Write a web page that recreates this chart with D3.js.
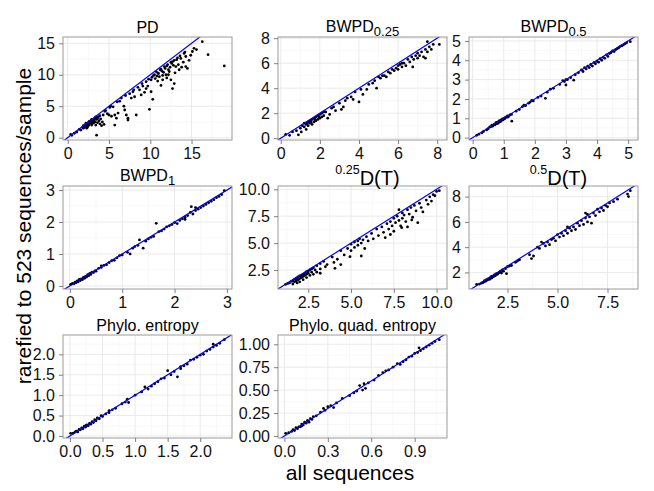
<!DOCTYPE html>
<html>
<head>
<meta charset="utf-8">
<script src="https://cdn.jsdelivr.net/npm/d3@7"></script>
<style>
body { margin: 0; background: #fff; }
text { font-family: "Liberation Sans", Arial, sans-serif; }
</style>
</head>
<body>
<svg id="chart" width="654" height="491"></svg>
<script>
// [all sequences, rarefied] pairs
const pd = [[0.36,0.5],[0.5,0.37],[0.8,0.7],[1.1,0.9],[1.4,1.3],[1.6,1.2],
  [1.8,1.6],[1.9,1.9],[2.0,1.7],[2.1,2.0],[2.2,1.8],[2.3,2.1],[2.4,2.2],[2.5,1.9],[2.5,2.4],[2.6,2.1],[2.7,2.5],[2.8,2.3],[2.8,2.7],[2.9,2.0],
  [3.0,2.6],[3.0,2.9],[3.1,2.3],[3.2,2.8],[3.3,3.1],[3.3,2.5],[3.4,2.0],[3.5,2.9],[3.5,0.4],[3.6,2.4],[3.7,3.3],[3.8,2.7],[3.9,2.2],[4.0,3.0],
  [4.1,1.9],[4.2,2.5],[4.3,3.6],[4.4,2.1],[2.2,2.3],[2.9,2.9],[3.6,3.1],[2.4,1.7],[3.1,2.7],[3.9,3.5],[3.4,3.3],[2.6,2.6],[1.9,1.5],[2.3,1.5],
  [4.6,4.3],[4.8,3.8],[5.0,3.6],[5.1,4.8],[5.3,3.4],[5.5,4.9],[5.7,2.0],[5.9,3.1],[5.7,3.6],[6.1,3.9],[6.3,5.8],[4.5,4.2],[5.2,5.0],[6.0,5.7],
  [6.5,6.3],[6.9,4.4],[7.1,3.6],[7.3,3.1],[7.3,2.8],[7.5,7.0],[7.7,6.3],[7.9,7.3],[8.1,6.5],[8.3,3.6],[6.8,5.0],[7.0,6.7],[8.0,7.6],
  [8.5,8.0],[8.7,7.6],[8.9,6.8],[9.1,8.2],[9.5,7.8],[9.5,8.9],[9.7,8.2],[9.9,4.5],[10.1,7.3],[10.1,9.2],[10.3,6.1],[9.3,7.2],[9.0,8.6],[9.8,9.3],
  [10.5,10.0],[10.6,9.4],[10.7,10.5],[10.9,9.0],[11.0,10.2],[11.1,9.7],[11.2,10.8],[11.3,8.3],[11.5,9.2],[11.6,10.4],[11.8,11.0],
  [11.9,10.0],[12.0,9.5],[12.1,11.6],[12.2,10.8],[12.3,10.5],[12.4,11.2],[12.5,9.2],[12.6,11.8],[12.7,7.8],[12.7,12.1],[12.9,8.6],
  [13.0,10.3],[13.1,11.3],[13.2,12.4],[13.4,11.6],[13.5,10.8],[13.7,12.6],[13.8,11.2],[14.0,12.0],[14.1,13.4],[14.3,12.9],[14.3,11.3],
  [14.5,11.0],[14.7,12.3],[14.9,13.1],[15.1,13.7],[15.3,14.2],[15.6,14.0],[11.4,10.6],[10.8,9.8],[12.8,11.5],
  [10.2,9.6],[10.4,9.9],[10.9,10.3],[11.3,10.9],[11.7,11.3],[12.0,11.4],[12.5,12.0],[12.9,12.3],[13.3,12.7],[13.6,13.0],[14.2,13.6],
  [11.5,9.9],[12.2,10.0],[16.3,15.26],[17.0,13.2],[18.97,11.4]];

const bwpd025 = [[0.25,0.3],[0.45,0.23],[0.6,0.5],[0.8,0.6],[0.9,0.27],[1.0,0.8],[1.05,0.5],[1.1,1.0],[1.2,0.9],[1.2,1.2],[1.3,1.1],
  [1.3,0.7],[1.4,1.3],[1.4,1.0],[1.5,1.4],[1.5,1.2],[1.6,1.5],[1.6,1.1],[1.7,1.6],[1.7,1.3],[1.8,1.7],[1.8,1.4],[1.9,1.8],[1.9,1.5],
  [2.0,1.9],[2.0,1.6],[2.1,2.0],[2.1,1.7],[2.2,1.8],[2.3,2.1],[2.4,1.6],[2.5,1.9],[2.6,2.4],[2.8,2.2],[3.0,2.8],[3.1,2.3],[3.2,2.5],
  [3.4,3.2],[3.6,3.3],[3.7,3.1],[3.8,3.7],[4.0,2.9],[4.1,3.9],[4.2,3.5],[4.4,3.9],[4.5,4.3],[4.7,4.4],[4.8,4.6],[4.9,4.0],[5.0,4.9],
  [5.1,4.8],[5.3,5.0],[5.4,4.9],[5.5,5.3],[5.6,5.2],[5.7,5.5],[5.8,5.4],[5.9,5.6],[6.0,5.8],[6.0,5.5],[6.1,5.9],[6.2,5.7],[6.3,6.0],
  [6.4,5.8],[6.5,6.3],[6.6,6.1],[6.7,6.5],[6.75,5.7],[6.8,6.3],[6.9,6.6],[7.0,6.4],[7.0,6.8],[7.1,6.6],[7.2,6.9],[7.3,6.5],[7.4,6.4],
  [7.4,7.1],[7.5,7.72],[7.5,6.9],[7.6,7.3],[7.7,7.1],[7.8,7.5],[8.11,7.5],[5.2,5.0],[6.2,6.0],[3.3,3.0],[2.7,2.5],[2.2,2.1],
  [1.55,1.3],[1.75,1.5],[1.95,1.7],[1.35,1.2]];

const bwpd05 = [[0.13,0.12],[0.2,0.18],[0.3,0.25],[0.35,0.32],[0.45,0.4],[0.5,0.46],[0.55,0.55],[0.6,0.57],[0.62,0.65],[0.65,0.6],
  [0.7,0.7],[0.72,0.66],[0.75,0.77],[0.78,0.72],[0.8,0.8],[0.82,0.75],[0.85,0.86],[0.88,0.82],[0.9,0.9],[0.92,0.86],[0.95,0.96],
  [0.98,0.92],[1.0,1.0],[1.03,0.97],[1.06,1.06],[1.1,1.05],[1.12,1.12],[1.15,1.08],[1.2,1.17],[1.25,1.2],[1.26,0.85],[1.4,1.37],
  [1.5,1.45],[1.6,1.6],[1.7,1.65],[1.8,1.78],[1.85,1.84],[1.95,1.9],[2.1,2.08],[2.2,2.15],[2.34,2.03],[2.4,2.35],[2.5,2.5],[2.6,2.55],
  [2.8,2.75],[2.9,2.95],[2.95,2.9],[3.0,2.72],[3.05,3.0],[3.15,3.1],[3.25,2.97],[3.3,3.25],[3.4,3.35],[3.5,3.5],[3.55,3.42],[3.6,3.62],
  [3.65,3.55],[3.7,3.7],[3.75,3.62],[3.8,3.78],[3.85,3.7],[3.9,3.88],[3.95,3.82],[4.0,3.95],[4.05,3.9],[4.1,4.08],[4.15,4.0],[4.2,4.15],
  [4.25,4.1],[4.3,4.28],[4.35,4.2],[4.4,4.35],[4.45,4.4],[4.5,4.48],[4.55,4.45],[4.6,4.55],[4.65,4.6],[4.7,4.65],[4.75,4.72],[4.8,4.75],
  [4.85,4.8],[4.9,4.85],[4.95,4.9],[5.07,4.96],[3.0,3.0],[1.9,1.92],[1.65,1.68]];

const bwpd1 = [[0.016,0.05],[0.05,0.08],[0.08,0.07],[0.1,0.12],[0.12,0.1],[0.14,0.16],[0.16,0.13],[0.18,0.2],[0.2,0.17],[0.22,0.22],
  [0.24,0.2],[0.26,0.27],[0.28,0.24],[0.3,0.3],[0.32,0.28],[0.34,0.35],[0.36,0.32],[0.38,0.39],[0.4,0.36],[0.42,0.43],[0.45,0.42],
  [0.48,0.47],[0.5,0.46],[0.55,0.55],[0.6,0.58],[0.65,0.64],[0.7,0.66],[0.75,0.73],[0.8,0.79],[0.85,0.8],[0.9,0.88],[0.95,0.95],
  [1.0,0.97],[1.1,1.05],[1.2,1.18],[1.24,1.23],[1.3,1.27],[1.33,1.44],[1.4,1.18],[1.45,1.4],[1.5,1.47],[1.55,1.52],[1.6,1.55],
  [1.65,1.96],[1.7,1.7],[1.75,1.72],[1.8,1.78],[1.85,1.85],[1.9,1.88],[1.95,1.92],[2.0,1.98],[2.05,1.95],[2.1,2.05],[2.15,2.1],
  [2.2,2.15],[2.25,2.2],[2.3,2.3],[2.32,2.48],[2.35,2.25],[2.4,2.36],[2.45,2.4],[2.5,2.45],[2.55,2.5],[2.6,2.55],[2.65,2.6],[2.7,2.65],
  [2.75,2.7],[2.8,2.76],[2.85,2.8],[2.9,2.86],[2.95,2.98],[2.2,2.08],[2.4,2.45],[0.6,0.63],[0.3,0.27],[1.15,1.0]];

const dt025 = [[1.18,1.17],[1.3,1.25],[1.4,1.3],[1.5,1.45],[1.6,1.5],[1.6,1.2],[1.7,1.65],[1.7,1.4],[1.8,1.75],[1.8,1.5],[1.85,1.3],
  [1.9,1.85],[1.9,1.6],[2.0,1.95],[2.0,1.7],[2.0,1.4],[2.1,2.0],[2.1,1.8],[2.2,2.1],[2.2,1.9],[2.2,1.6],[2.3,2.2],[2.3,2.0],[2.4,2.35],
  [2.4,2.1],[2.4,1.8],[2.5,2.4],[2.5,2.2],[2.6,2.5],[2.6,2.0],[2.7,2.6],[2.7,2.3],[2.8,2.7],[2.8,2.1],[2.9,2.5],[3.0,2.9],[3.0,2.3],
  [3.2,3.1],[3.2,2.6],[3.2,2.2],[3.4,3.3],[3.5,2.8],[3.6,3.0],[4.06,2.66],[3.9,3.7],[4.0,3.2],[4.2,3.5],[4.4,4.3],[4.4,3.0],[4.6,3.9],
  [4.8,4.5],[4.94,3.74],[5.0,4.9],[5.0,4.3],[5.2,5.1],[5.2,4.6],[5.4,5.2],[5.4,4.8],[5.5,5.4],[5.6,3.8],[5.6,5.0],[5.7,5.3],[5.8,4.5],
  [5.9,5.6],[6.0,5.2],[6.2,5.9],[6.3,5.4],[6.5,6.3],[6.6,5.7],[6.8,6.5],[6.9,6.0],[7.0,5.5],[7.1,6.8],[7.2,6.3],[7.3,7.0],[7.4,6.6],
  [7.5,7.3],[7.5,6.1],[7.6,6.9],[7.7,7.5],[7.8,8.1],[7.8,7.1],[7.9,6.6],[7.96,6.43],[8.0,7.8],[8.0,7.3],[8.1,7.6],[8.2,7.0],[8.3,8.1],
  [8.3,6.5],[8.4,7.7],[8.5,8.3],[8.55,7.15],[8.6,7.4],[8.7,8.5],[8.8,8.0],[8.9,6.9],[9.0,8.7],[9.1,8.3],[9.2,7.9],[9.4,9.0],[9.5,8.6],
  [9.6,9.3],[9.8,9.5],[10.0,9.8],[10.16,9.87],[9.9,9.4],[9.7,8.9],[7.3,5.8]];

const dt05 = [[0.96,1.06],[1.1,1.08],[1.2,1.15],[1.3,1.22],[1.35,1.35],[1.4,1.3],[1.45,1.42],[1.5,1.4],[1.55,1.5],[1.6,1.45],
  [1.65,1.6],[1.7,1.55],[1.75,1.7],[1.8,1.65],[1.85,1.8],[1.9,1.75],[1.95,1.9],[2.0,1.85],[2.05,1.95],[2.1,2.0],[2.15,2.1],[2.2,1.95],
  [2.25,2.2],[2.3,2.1],[2.4,2.3],[2.45,1.9],[2.5,2.45],[2.6,2.5],[2.7,2.55],[2.9,2.8],[3.1,3.0],[3.6,3.4],[3.7,3.1],[3.8,3.3],[4.0,4.0],
  [4.1,3.9],[4.3,4.3],[4.4,4.1],[4.5,4.4],[4.6,4.2],[4.7,4.6],[4.8,4.7],[4.9,4.5],[5.0,5.0],[5.1,4.8],[5.2,5.1],[5.3,4.9],[5.4,5.3],
  [5.5,5.1],[5.6,5.5],[5.7,5.3],[5.8,5.6],[5.9,5.4],[6.0,5.9],[6.1,5.7],[6.2,6.1],[6.3,5.8],[6.4,6.3],[6.5,6.0],[6.5,6.6],[6.6,6.4],
  [6.7,5.9],[6.8,6.7],[6.9,6.5],[7.0,7.0],[7.1,6.8],[7.2,7.1],[7.3,6.9],[7.4,7.3],[7.5,7.2],[7.6,7.5],[7.8,7.6],[8.0,7.8],[8.5,8.2],
  [8.64,8.47],[8.55,8.0],[6.4,6.7],[5.5,5.6],[4.2,4.4],[3.0,2.9],[1.25,1.2],[1.7,1.68],[1.9,1.82]];

const entropy = [[0.011,0.065],[0.05,0.07],[0.08,0.1],[0.1,0.12],[0.12,0.1],[0.14,0.16],[0.16,0.15],[0.18,0.2],[0.2,0.18],[0.22,0.24],
  [0.24,0.22],[0.26,0.27],[0.28,0.25],[0.3,0.31],[0.32,0.29],[0.34,0.35],[0.36,0.33],[0.38,0.4],[0.4,0.37],[0.42,0.44],[0.45,0.42],
  [0.48,0.5],[0.5,0.48],[0.55,0.54],[0.6,0.57],[0.65,0.64],[0.7,0.68],[0.8,0.79],[0.85,0.83],[0.88,0.9],[0.9,0.82],[1.0,1.0],[1.1,1.08],
  [1.15,1.2],[1.2,1.15],[1.25,1.22],[1.3,1.28],[1.35,1.33],[1.4,1.4],[1.45,1.42],[1.5,1.6],[1.55,1.5],[1.6,1.58],[1.65,1.45],[1.7,1.7],
  [1.75,1.72],[1.8,1.76],[1.85,1.86],[1.9,1.88],[1.95,1.93],[2.0,1.98],[2.05,2.0],[2.1,2.08],[2.15,2.12],[2.2,2.18],[2.25,2.22],
  [2.3,2.27],[2.37,2.36],[2.2,2.25],[1.7,1.65],[0.6,0.62],[0.25,0.26]];

const quadEntropy = [[0.009,0.029],[0.03,0.035],[0.05,0.05],[0.06,0.07],[0.07,0.06],[0.08,0.09],[0.09,0.08],[0.1,0.1],[0.11,0.1],
  [0.12,0.13],[0.13,0.12],[0.14,0.15],[0.15,0.14],[0.16,0.17],[0.17,0.15],[0.18,0.19],[0.19,0.18],[0.2,0.21],[0.22,0.22],[0.25,0.26],
  [0.28,0.28],[0.3,0.32],[0.32,0.33],[0.34,0.31],[0.36,0.36],[0.4,0.41],[0.45,0.44],[0.48,0.47],[0.5,0.49],[0.52,0.55],[0.54,0.5],
  [0.56,0.52],[0.58,0.58],[0.62,0.61],[0.65,0.66],[0.68,0.69],[0.7,0.71],[0.72,0.72],[0.75,0.75],[0.78,0.79],[0.8,0.78],[0.82,0.81],
  [0.84,0.83],[0.86,0.86],[0.88,0.87],[0.9,0.9],[0.92,0.91],[0.94,0.93],[0.96,0.95],[0.98,0.97],[1.0,0.99],[1.02,1.01],[1.04,1.03],
  [1.07,1.05],[0.27,0.3],[0.55,0.57],[0.93,0.96],[0.12,0.11]];

// facet strips and breaks
const titles = [
  {text: "PD"}, {text: "BWPD", sub: "0.25"}, {text: "BWPD", sub: "0.5"},
  {text: "BWPD", sub: "1"}, {text: "D(T)", sup: "0.25"}, {text: "D(T)", sup: "0.5"},
  {text: "Phylo. entropy"}, {text: "Phylo. quad. entropy"}
];
const series = [pd, bwpd025, bwpd05, bwpd1, dt025, dt05, entropy, quadEntropy];
const xTicks = [[0,5,10,15],[0,2,4,6,8],[0,1,2,3,4,5],[0,1,2,3],[2.5,5,7.5,10],[2.5,5,7.5],[0,0.5,1,1.5,2],[0,0.3,0.6,0.9]];
const yTicks = [[0,5,10,15],[0,2,4,6,8],[0,1,2,3,4,5],[0,1,2,3],[2.5,5,7.5,10],[2,4,6,8],[0,0.5,1,1.5,2],[0,0.25,0.5,0.75,1]];
const xFormats = ["d","d","d","d",".1f",".1f",".1f",".1f"];
const yFormats = ["d","d","d","d",".1f","d",".1f",".2f"];

const svg = d3.select("#chart");
const colLeft = [63, 278, 469], rowTop = [37, 186, 335];
const pw = 169, ph = 103;

function expanded(vals) {
  const e = d3.extent(vals), pad = (e[1] - e[0]) * 0.05;
  return [e[0] - pad, e[1] + pad];
}
function minorBreaks(ticks, dom) {
  const step = ticks[1] - ticks[0];
  const out = ticks.map(t => t - step / 2).concat([ticks[ticks.length - 1] + step / 2]);
  return out.filter(v => v >= dom[0] && v <= dom[1]);
}

series.forEach((data, i) => {
  const left = colLeft[i % 3], top = rowTop[Math.floor(i / 3)];
  const x = d3.scaleLinear().domain(expanded(data.map(d => d[0]))).range([0, pw]);
  const y = d3.scaleLinear().domain(expanded(data.map(d => d[1]))).range([ph, 0]);
  const g = svg.append("g").attr("transform", `translate(${left},${top})`);

  g.append("rect").attr("width", pw).attr("height", ph).attr("fill", "#fff");

  // grid
  g.selectAll(".xminor").data(minorBreaks(xTicks[i], x.domain())).enter().append("line")
    .attr("x1", d => x(d)).attr("x2", d => x(d)).attr("y1", 0).attr("y2", ph)
    .attr("stroke", "#f4f4f4").attr("stroke-width", 0.6);
  g.selectAll(".yminor").data(minorBreaks(yTicks[i], y.domain())).enter().append("line")
    .attr("y1", d => y(d)).attr("y2", d => y(d)).attr("x1", 0).attr("x2", pw)
    .attr("stroke", "#f4f4f4").attr("stroke-width", 0.6);
  g.selectAll(".xmajor").data(xTicks[i]).enter().append("line")
    .attr("x1", d => x(d)).attr("x2", d => x(d)).attr("y1", 0).attr("y2", ph)
    .attr("stroke", "#e5e5e5").attr("stroke-width", 0.8);
  g.selectAll(".ymajor").data(yTicks[i]).enter().append("line")
    .attr("y1", d => y(d)).attr("y2", d => y(d)).attr("x1", 0).attr("x2", pw)
    .attr("stroke", "#e5e5e5").attr("stroke-width", 0.8);

  const clipId = "clip" + i;
  g.append("clipPath").attr("id", clipId).append("rect").attr("width", pw).attr("height", ph);
  const body = g.append("g").attr("clip-path", `url(#${clipId})`);

  body.selectAll("circle").data(data).enter().append("circle")
    .attr("cx", d => x(d[0])).attr("cy", d => y(d[1])).attr("r", 1.4)
    .attr("fill", "#000");

  // y = x reference line
  const dom = [Math.min(x.domain()[0], y.domain()[0]), Math.max(x.domain()[1], y.domain()[1])];
  body.append("line")
    .attr("x1", x(dom[0])).attr("y1", y(dom[0]))
    .attr("x2", x(dom[1])).attr("y2", y(dom[1]))
    .attr("stroke", "#0000ff").attr("stroke-width", 1.2);

  g.append("rect").attr("width", pw).attr("height", ph)
    .attr("fill", "none").attr("stroke", "#9a9a9a").attr("stroke-width", 1);

  // axes
  const ax = g.append("g").attr("transform", `translate(0,${ph})`)
    .call(d3.axisBottom(x).tickValues(xTicks[i]).tickFormat(d3.format(xFormats[i]))
      .tickSize(4).tickPadding(4));
  const ay = g.append("g")
    .call(d3.axisLeft(y).tickValues(yTicks[i]).tickFormat(d3.format(yFormats[i]))
      .tickSize(4).tickPadding(4));
  [ax, ay].forEach(a => {
    a.attr("font-family", null).attr("font-size", null);
    a.select(".domain").remove();
    a.selectAll(".tick line").attr("stroke", "#7f7f7f");
    a.selectAll(".tick text").attr("fill", "#111").style("font-size", "16px");
  });

  // strip title
  const t = titles[i];
  const txt = g.append("text").attr("x", pw / 2).attr("text-anchor", "middle")
    .style("font-size", "16px").attr("fill", "#000");
  if (t.sub) {
    txt.attr("y", -5);
    txt.append("tspan").text(t.text);
    txt.append("tspan").attr("dy", 3.5).style("font-size", "13px").text(t.sub);
  } else if (t.sup) {
    txt.attr("x", pw / 2 + 5).attr("y", -1.5);
    txt.append("tspan").attr("dy", -10.5).style("font-size", "12.5px").text(t.sup);
    txt.append("tspan").attr("dy", 10.5).style("font-size", "20px").text(t.text);
  } else {
    txt.attr("y", -4).text(t.text);
  }
});

// axis titles
svg.append("text").attr("x", 350).attr("y", 480).attr("text-anchor", "middle")
  .style("font-size", "21px").text("all sequences");
svg.append("text").attr("transform", "translate(31,226) rotate(-90)").attr("text-anchor", "middle")
  .style("font-size", "21px").text("rarefied to 523 sequences/sample");
</script>
</body>
</html>
